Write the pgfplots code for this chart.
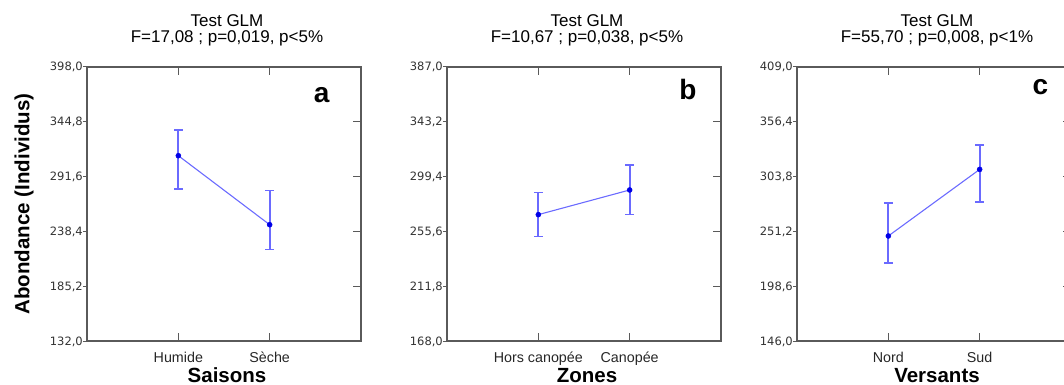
\documentclass[border=0pt]{standalone}
\usepackage{fontspec}
\setmainfont{Liberation Sans}
\newfontfamily\tickfont{DejaVu Sans}
\usepackage{pgfplots}
\pgfplotsset{compat=1.18}
\definecolor{axisgray}{HTML}{5A5A5A}
\definecolor{lineblue}{HTML}{6B6BFF}
\definecolor{markblue}{HTML}{0000E6}
\definecolor{errblue}{HTML}{6A6AFF}
\pgfplotsset{
  glmpanel/.style={
    scale only axis, width=274bp, height=274bp,
    xmin=0, xmax=3, xtick={1,2}, clip=false,
    axis line style={axisgray, line width=1.2bp},
    every tick/.style={axisgray, line width=1bp},
    tick align=inside, major tick length=8bp,
    xtick pos=both, xticklabel pos=bottom,
    ytick pos=right, yticklabel pos=left,
    unbounded coords=jump,
    /pgf/number format/assume math mode=true,
    xticklabel style={font=\fontsize{14.3bp}{16bp}\selectfont, color=black!85, text height=11bp, text depth=3bp, inner sep=0pt, anchor=north, yshift=-10bp},
    yticklabel style={font=\tickfont\fontsize{11.5bp}{13bp}\selectfont, color=black!80, text height=8bp, text depth=0pt, inner sep=0pt, anchor=east},
    yticklabel={\pgfmathprintnumber[fixed, fixed zerofill, precision=1, use comma, assume math mode=true]{\tick}\textcolor{axisgray}{\rule[3.5bp]{4bp}{1bp}}},
    xlabel style={font=\bfseries\fontsize{20.5bp}{22bp}\selectfont, at={(rel axis cs:0.5,0)}, anchor=base, yshift=-41bp, xshift=3bp},
  },
  errplot/.style={draw=errblue, line width=1.7bp, mark=-, mark size=4.2bp,
    mark options={solid, line width=1.5bp, draw=errblue}},
  meanplot/.style={color=lineblue, line width=1.1bp, mark=*, mark size=2.5bp,
    mark options={fill=markblue, draw=markblue, line width=0.5bp}},
}
\newcommand{\paneltitle}[1]{%
  \node[anchor=base, font=\fontsize{17bp}{18bp}\selectfont, xshift=3bp, yshift=40.3bp] at (rel axis cs:0.5,1) {Test GLM};
  \node[anchor=base, font=\fontsize{17bp}{18bp}\selectfont, xshift=3bp, yshift=24.7bp] at (rel axis cs:0.5,1) {#1};
}
\begin{document}
\begin{tikzpicture}
\useasboundingbox (0,0) rectangle (1064bp,385bp);
% Panel a
\begin{axis}[glmpanel, at={(87bp,44bp)}, anchor=south west,
  ymin=132, ymax=398, ytick={132,185.2,238.4,291.6,344.8,398},
  xticklabels={Humide,Sèche}, xlabel={Saisons},
  ylabel={Abondance (Individus)},
  ylabel style={font=\bfseries\fontsize{20.5bp}{22bp}\selectfont, at={(rel axis cs:-0.23,0.5)}, anchor=center}]
% error bars: lower and upper limits
\addplot[errplot] coordinates {(1,279.5) (1,336.8) (1,nan) (2,220.9) (2,277.9)};
% means
\addplot[meanplot] coordinates {(1,311.9) (2,244.9)};
\paneltitle{F=17,08 ; p=0,019, p<5\%}
\node[font=\bfseries\fontsize{28bp}{30bp}\selectfont, anchor=base east] at (rel axis cs:0.898,0.869) {a};
\end{axis}
% Panel b
\begin{axis}[glmpanel, at={(447bp,44bp)}, anchor=south west,
  ymin=168, ymax=387, ytick={168,211.8,255.6,299.4,343.2,387},
  xticklabels={Hors canopée,Canopée}, xlabel={Zones}]
\addplot[errplot] coordinates {(1,251.4) (1,286.8) (1,nan) (2,269.2) (2,308.7)};
\addplot[meanplot] coordinates {(1,269.0) (2,288.7)};
\paneltitle{F=10,67 ; p=0,038, p<5\%}
\node[font=\bfseries\fontsize{28bp}{30bp}\selectfont, anchor=base east] at (rel axis cs:0.923,0.88) {b};
\end{axis}
% Panel c
\begin{axis}[glmpanel, at={(797bp,44bp)}, anchor=south west,
  ymin=146, ymax=409, ytick={146,198.6,251.2,303.8,356.4,409},
  xticklabels={Nord,Sud}, xlabel={Versants}]
\addplot[errplot] coordinates {(1,220.8) (1,278.5) (1,nan) (2,279.3) (2,334.1)};
\addplot[meanplot] coordinates {(1,246.8) (2,310.7)};
\paneltitle{F=55,70 ; p=0,008, p<1\%}
\node[font=\bfseries\fontsize{28bp}{30bp}\selectfont, anchor=base east] at (rel axis cs:0.93,0.898) {c};
\end{axis}
\end{tikzpicture}
\end{document}
